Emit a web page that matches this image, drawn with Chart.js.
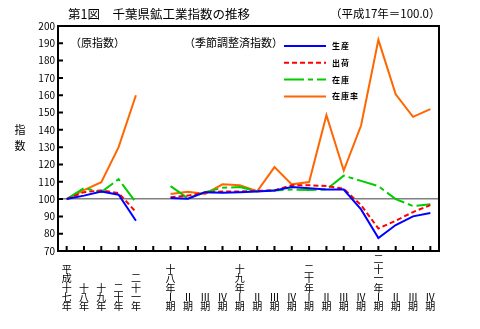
<!DOCTYPE html>
<html lang="ja">
<head>
<meta charset="utf-8"/>
<title>第1図 千葉県鉱工業指数の推移</title>
<script src="https://cdn.jsdelivr.net/npm/chart.js"></script>
<style>
body { margin: 0; background: #fff; }
.chart-box { width: 480px; height: 329px; }
</style>
</head>
<body>
<div class="chart-box"><canvas id="idxChart"></canvas></div>
<script>
// 年次（原指数）5本 + 空き1 + 四半期（季節調整済）16本
const categories = [
  '平成十七年', '十八年', '十九年', '二十年', '二十一年', '',
  '十八年Ⅰ期', 'Ⅱ期', 'Ⅲ期', 'Ⅳ期',
  '十九年Ⅰ期', 'Ⅱ期', 'Ⅲ期', 'Ⅳ期',
  '二十年Ⅰ期', 'Ⅱ期', 'Ⅲ期', 'Ⅳ期',
  '二十一年Ⅰ期', 'Ⅱ期', 'Ⅲ期', 'Ⅳ期'
];
const seisan = [100, 102, 104.4, 102.5, 87.5, null,
  100.6, 100.2, 104, 103.7, 104, 104.4, 105, 107, 106.3, 105.5, 105.5, 94, 77.5, 85, 90, 92];
const shukka = [100, 104, 105, 103.5, 92.5, null,
  101, 102, 103.8, 104.4, 104.4, 104.8, 105, 108, 108, 107.5, 106, 96.5, 83, 87.5, 92.5, 96.5];
const zaiko = [100, 106.3, 104, 111.5, 98, null,
  107.5, 100.5, 104, 106.5, 107, 104.5, 105, 105.5, 105.3, 105.5, 113.5, 110.5, 107.5, 100, 96, 97];
const zaikoritsu = [100, 105.2, 109.8, 130, 160, null,
  103, 104.2, 103, 108.5, 108, 104.5, 118.5, 108.5, 109.8, 148.5, 116.5, 142.5, 192, 160.5, 147.5, 152];
const seriesNames = ['生産', '出荷', '在庫', '在庫率'];
const yMin = 70, yMax = 200, yStep = 10;

const JP = "'Noto Sans CJK JP', sans-serif";

// 縦書きラベル：下揃えにするため先頭を空行で埋める
function toVertical(label) {
  const chars = Array.from(label);
  while (chars.length < 6) chars.unshift('');
  return chars;
}

const framePlugin = {
  id: 'frame',
  afterDraw(chart) {
    const { ctx, chartArea: a, scales: { x, y } } = chart;
    ctx.save();
    ctx.strokeStyle = '#000';
    ctx.lineWidth = 2;
    ctx.beginPath();
    ctx.moveTo(a.left, a.top);
    ctx.lineTo(a.right, a.top);
    ctx.lineTo(a.right, a.bottom);
    ctx.stroke();
    // 内向きの目盛り
    ctx.beginPath();
    y.ticks.forEach(t => {
      const py = y.getPixelForValue(t.value);
      ctx.moveTo(a.left, py);
      ctx.lineTo(a.left + 5, py);
    });
    categories.forEach((c, i) => {
      const px = x.getPixelForValue(i);
      ctx.moveTo(px, a.bottom);
      ctx.lineTo(px, a.bottom - 5);
    });
    ctx.stroke();

    ctx.fillStyle = '#000';
    ctx.textBaseline = 'middle';
    ctx.textAlign = 'left';
    ctx.font = '12.5px ' + JP;
    ctx.fillText('第1図　千葉県鉱工業指数の推移', 68, 14);
    ctx.font = '11.5px ' + JP;
    ctx.fillText('（平成17年＝100.0）', 330, 14);
    ctx.font = '11px ' + JP;
    ctx.fillText('（原指数）', 70, 43);
    ctx.fillText('（季節調整済指数）', 184, 43);
    ctx.textAlign = 'center';
    ctx.fillText('指', 20, 130);
    ctx.fillText('数', 20, 146);

    // 凡例
    chart.data.datasets.forEach((ds, i) => {
      const ly = 46 + i * 16.8;
      ctx.strokeStyle = ds.borderColor;
      ctx.lineWidth = 2;
      ctx.setLineDash(ds.borderDash || []);
      ctx.beginPath();
      ctx.moveTo(284, ly);
      ctx.lineTo(326, ly);
      ctx.stroke();
      ctx.setLineDash([]);
      ctx.fillStyle = '#000';
      ctx.font = 'bold 8px ' + JP;
      ctx.textAlign = 'left';
      Array.from(ds.label).forEach((ch, k) => ctx.fillText(ch, 332 + k * 9, ly));
    });
    ctx.restore();
  }
};

const colors = ['#0000ff', '#ff0000', '#00cc00', '#ff6600'];
const dashes = [[], [5, 3], [20, 4, 5, 4], []];
const values = [seisan, shukka, zaiko, zaikoritsu];

new Chart(document.getElementById('idxChart'), {
  type: 'line',
  data: {
    labels: categories.map(toVertical),
    datasets: values.map((v, i) => ({
      label: seriesNames[i],
      data: v,
      borderColor: colors[i],
      backgroundColor: colors[i],
      borderDash: dashes[i],
      borderWidth: 2,
      pointRadius: 0,
      tension: 0,
      spanGaps: false
    }))
  },
  options: {
    responsive: true,
    maintainAspectRatio: false,
    animation: false,
    layout: { padding: { top: 26, right: 41, left: 0, bottom: 0 } },
    plugins: { legend: { display: false }, tooltip: { enabled: false } },
    scales: {
      x: {
        offset: true,
        grid: { display: false },
        border: { color: '#000', width: 2 },
        ticks: {
          autoSkip: false, maxRotation: 0, minRotation: 0, padding: -4, color: '#000',
          font: { family: JP, size: 10, lineHeight: '9.4px' }
        },
        afterFit: s => { s.height = 78; }
      },
      y: {
        min: yMin, max: yMax,
        ticks: { stepSize: yStep, padding: 3, color: '#000', font: { family: JP, size: 10 } },
        grid: {
          drawTicks: false,
          lineWidth: 1.5,
          color: c => c.tick && c.tick.value === 100 ? '#808080' : 'rgba(0,0,0,0)'
        },
        border: { color: '#000', width: 2 },
        afterFit: s => { s.width = 58; }
      }
    }
  },
  plugins: [framePlugin]
});
</script>
</body>
</html>
